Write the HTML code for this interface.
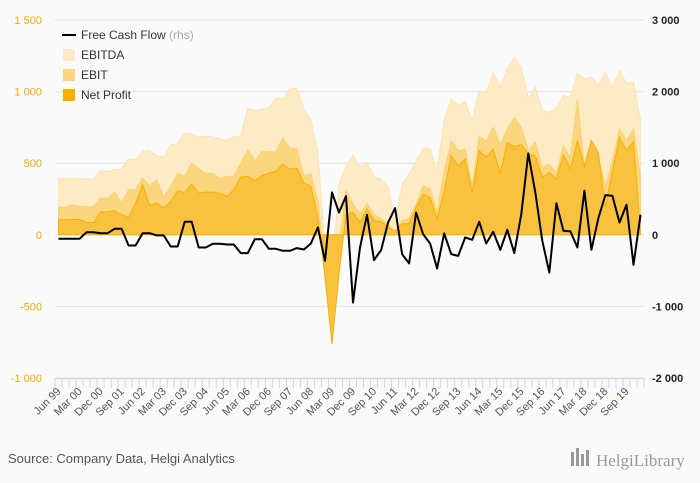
<!DOCTYPE html>
<html><head><meta charset="utf-8"><style>
body{margin:0;background:#fafafa;}
svg{display:block;font-family:"Liberation Sans",sans-serif;}
</style></head><body>
<svg id="c" width="700" height="483">
<rect width="700" height="483" fill="#fafafa"/>
<g id="grid"></g><g id="areas"></g><g id="lines"></g><g id="axes"></g>
<g>
<line x1="62" y1="35" x2="76" y2="35" stroke="#000" stroke-width="2"/>
<text x="81" y="39" font-size="12" fill="#333">Free Cash Flow <tspan fill="#aaa">(rhs)</tspan></text>
<rect x="63" y="49" width="12" height="12" fill="#fdebc5"/>
<text x="81" y="59" font-size="12" fill="#333">EBITDA</text>
<rect x="63" y="69" width="12" height="12" fill="#fcd67e"/>
<text x="81" y="79" font-size="12" fill="#333">EBIT</text>
<rect x="63" y="89" width="12" height="12" fill="#f7b000"/>
<text x="81" y="99" font-size="12" fill="#333">Net Profit</text>
</g>
<text x="8" y="463" font-size="13" fill="#555">Source: Company Data, Helgi Analytics</text>
<g>
<rect x="571" y="452" width="3" height="14" fill="#999"/><rect x="576" y="448" width="3" height="18" fill="#999"/><rect x="581" y="454" width="3" height="12" fill="#999"/><rect x="586" y="450" width="3" height="16" fill="#999"/>
<text x="596" y="466" font-size="17" fill="#999" font-family="Liberation Serif,serif">HelgiLibrary</text>
</g>
</svg>
<script>
const ebitda=[391,394,394,391,389,389,448,441,455,459,531,524,583,587,552,541,629,636,711,704,683,687,683,669,659,683,692,883,867,878,890,955,948,1018,1025,878,800,575,-112,-298,354,470,557,475,505,405,389,335,75,354,428,512,606,598,452,801,948,905,928,797,1007,995,1133,1033,1157,1235,1170,947,1030,867,855,878,972,960,1124,1089,1101,1043,1137,1021,1149,1056,1068,797];
const ebit=[191,191,210,198,196,196,256,256,296,221,314,314,396,343,385,263,338,431,408,501,461,426,429,394,408,408,501,594,517,582,578,582,676,601,601,412,424,230,-205,-718,-89,307,214,144,214,144,110,75,16,98,110,214,342,319,156,447,657,587,599,331,688,653,751,627,737,818,749,587,645,471,494,429,622,536,940,482,657,541,331,517,739,657,739,401];
const netProfit=[105,105,107,107,86,86,160,160,168,140,121,221,350,203,221,186,233,308,296,354,291,298,298,291,268,315,403,408,378,413,431,443,494,459,464,360,340,120,-298,-764,-275,144,156,86,179,98,93,51,28,75,79,191,284,261,110,308,552,482,529,296,587,541,599,429,645,615,629,564,552,401,436,389,557,459,660,475,657,575,191,447,680,587,652,5];
const fcf=[-56,-56,-56,-56,37,37,23,23,84,84,-149,-149,23,23,-9,-9,-163,-163,182,182,-177,-177,-126,-126,-135,-135,-256,-256,-61,-61,-196,-196,-224,-224,-186,-205,-121,103,-363,592,312,540,-946,-177,280,-354,-214,172,373,-270,-400,312,9,-121,-471,19,-270,-294,-37,-70,182,-121,42,-210,70,-256,289,1137,592,-84,-527,440,56,47,-177,615,-210,233,555,545,172,419,-420,280];
const leftTicks=[1500,1000,500,0,-500,-1000];
const leftLabels=["1 500","1 000","500","0","-500","-1 000"];
const rightTicks=[3000,2000,1000,0,-1000,-2000];
const rightLabels=["3 000","2 000","1 000","0","-1 000","-2 000"];
const months=["Mar","Jun","Sep","Dec"];
const NS="http://www.w3.org/2000/svg";
const L=55,R=644,T=20,B=378,N=ebitda.length,bw=(R-L)/N;
const yL=v=>T+(1500-v)/2500*(B-T);
const yR=v=>T+(3000-v)/5000*(B-T);
const xC=i=>L+(i+0.5)*bw;
function mk(tag,attrs,parent){const e=document.createElementNS(NS,tag);for(const k in attrs)e.setAttribute(k,attrs[k]);parent.appendChild(e);return e;}
const grid=document.getElementById('grid'),axes=document.getElementById('axes'),areas=document.getElementById('areas'),lines=document.getElementById('lines');
leftTicks.forEach((v,k)=>{
  const g=mk('line',{x1:L,x2:R,y1:yL(v),y2:yL(v),stroke:'#e3e3e3','stroke-width':1},grid);
  
  
  const t=mk('text',{x:42,y:yL(v)+4,'text-anchor':'end','font-size':11,fill:'#f0a800'},axes);
  t.textContent=leftLabels[k];
  
  
});
rightTicks.forEach((v,k)=>{
  const t=mk('text',{x:652,y:yR(v)+4,'font-size':11,fill:'#222','font-weight':'bold'},axes);
  t.textContent=rightLabels[k];
  
  
});
function area(data,fill,stroke,name){
  let d='M'+xC(0)+','+yL(0);
  data.forEach((v,i)=>{d+=' L'+xC(i).toFixed(1)+','+yL(v).toFixed(1);});
  d+=' L'+xC(N-1)+','+yL(0)+' Z';
  const p=mk('path',{d:d,fill:fill,stroke:stroke,'stroke-width':1},areas);
  
  
}
area(ebitda,'#fdebc5','#fde3b0','ebitda-area');
area(ebit,'#fcd67e','#fbd070','ebit-area');
area(netProfit,'#f9c23e','#f6b100','net-profit-area');
let d='';fcf.forEach((v,i)=>{d+=(i?' L':'M')+xC(i).toFixed(1)+','+yR(v).toFixed(1);});
const fl=mk('path',{d:d,fill:'none',stroke:'#000','stroke-width':2,'stroke-linejoin':'round'},lines);


const ax=mk('line',{x1:L,x2:R,y1:B+0.5,y2:B+0.5,stroke:'#ccd6eb'},axes);


for(let i=0;i<=N;i++){
  const tk=mk('line',{x1:L+i*bw,x2:L+i*bw,y1:B,y2:B+10,stroke:'#ccd6eb'},axes);
  
  
}
for(let i=0;i<N;i+=3){
  const q=(i+1)%4, yr=1999+Math.floor((i+1)/4);
  const lab=months[q]+' '+String(yr%100).padStart(2,'0');
  const x=xC(i)+3,y=B+14;
  const t=mk('text',{x:x,y:y,'text-anchor':'end','font-size':11,fill:'#555',transform:'rotate(-45 '+x+' '+y+')'},axes);
  t.textContent=lab;
  
  
}
</script>
</body></html>
